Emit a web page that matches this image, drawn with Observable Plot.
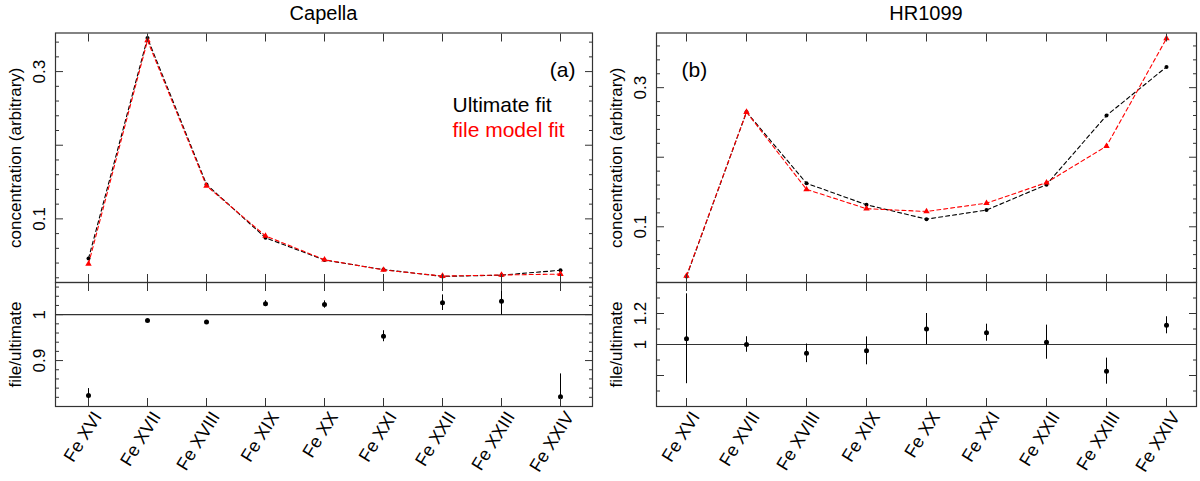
<!DOCTYPE html>
<html>
<head>
<meta charset="utf-8">
<script src="https://cdn.jsdelivr.net/npm/d3@7"></script>
<script src="https://cdn.jsdelivr.net/npm/@observablehq/plot@0.6"></script>
<style>
  body { margin: 0; background: #fff; font-family: "Liberation Sans", Arial, sans-serif; }
  #fig { position: relative; width: 1200px; height: 481px; overflow: hidden; background: #fff; }
  #fig svg { position: absolute; }
  .ttl { position: absolute; top: 2px; font-size: 20px; transform: translateX(-50%); color: #000; }
</style>
</head>
<body>
<div id="fig"></div>
<script>
// ions on the x axis
const ions = ["Fe XVI", "Fe XVII", "Fe XVIII", "Fe XIX", "Fe XX", "Fe XXI", "Fe XXII", "Fe XXIII", "Fe XXIV"];

// Capella
const capUlt   = [0.0461, 0.3455, 0.1468, 0.0743, 0.0441, 0.0311, 0.0219, 0.0236, 0.0302];
const capFile  = [0.0388, 0.3423, 0.1448, 0.0768, 0.0445, 0.0307, 0.0223, 0.0238, 0.0250];
const capRatio = [0.824, 0.987, 0.984, 1.024, 1.022, 0.953, 1.026, 1.029, 0.821];
const capErr   = [0.015, 0.002, 0.002, 0.0065, 0.008, 0.012, 0.017, 0.03, 0.05];

// HR1099
const hrUlt   = [0.0285, 0.265, 0.1625, 0.1317, 0.111, 0.124, 0.1606, 0.260, 0.3298];
const hrFile  = [0.0293, 0.265, 0.1538, 0.126, 0.122, 0.134, 0.1635, 0.2159, 0.3707];
const hrRatio = [1.037, 1.0, 0.943, 0.959, 1.10, 1.076, 1.015, 0.828, 1.124];
const hrErr   = [0.29, 0.05, 0.06, 0.09, 0.1, 0.055, 0.11, 0.084, 0.055];

// tick values
const capTopMajor = [0.1, 0.2, 0.3];
const capTopMinor = [0.02, 0.04, 0.06, 0.08, 0.12, 0.14, 0.16, 0.18, 0.22, 0.24, 0.26, 0.28, 0.32, 0.34];
const capTopLabels = [0.1, 0.3];
const capBotMajor = [0.8, 0.9, 1];
const capBotMinor = [0.82, 0.84, 0.86, 0.88, 0.92, 0.94, 0.96, 0.98, 1.02, 1.04, 1.06];
const capBotLabels = [0.9, 1];

const hrTopMajor = [0.1, 0.2, 0.3];
const hrTopMinor = [0.02, 0.04, 0.06, 0.08, 0.12, 0.14, 0.16, 0.18, 0.22, 0.24, 0.26, 0.28, 0.32, 0.34, 0.36];
const hrTopLabels = [0.1, 0.3];
const hrBotMajor = [0.8, 1, 1.2];
const hrBotMinor = [0.7, 0.9, 1.1, 1.3];
const hrBotLabels = [1, 1.2];

const panels = [
  {title: "Capella", x0: 0, fl: 55, fr: 592, ult: capUlt, file: capFile, ratio: capRatio, err: capErr,
   topDomain: [0.0136, 0.3524], botDomain: [0.80, 1.07],
   topMajor: capTopMajor, topMinor: capTopMinor, topLabels: capTopLabels,
   botMajor: capBotMajor, botMinor: capBotMinor, botLabels: capBotLabels, tag: "(a)", legend: true},
  {title: "HR1099", x0: 600, fl: 656, fr: 1196, ult: hrUlt, file: hrFile, ratio: hrRatio, err: hrErr,
   topDomain: [0.0199, 0.3786], botDomain: [0.6, 1.4],
   topMajor: hrTopMajor, topMinor: hrTopMinor, topLabels: hrTopLabels,
   botMajor: hrBotMajor, botMinor: hrBotMinor, botLabels: hrBotLabels, tag: "(b)", legend: false}
];

const fig = d3.select("#fig");
const frameColor = "#333";
const font = "Liberation Sans, Arial, sans-serif";

function yTicks(major, minor) {
  return [
    Plot.axisY(major, {anchor: "left", tickSize: -8, fill: "none", stroke: frameColor}),
    Plot.axisY(major, {anchor: "right", tickSize: -8, fill: "none", stroke: frameColor}),
    Plot.axisY(minor, {anchor: "left", tickSize: -4, fill: "none", stroke: frameColor}),
    Plot.axisY(minor, {anchor: "right", tickSize: -4, fill: "none", stroke: frameColor})
  ];
}
function xTicks() {
  return [
    Plot.axisX({anchor: "top", tickSize: -8, fill: "none", stroke: frameColor}),
    Plot.axisX({anchor: "bottom", tickSize: -8, fill: "none", stroke: frameColor})
  ];
}

panels.forEach(p => {
  const ult = ions.map((ion, i) => ({ion, v: p.ult[i]}));
  const file = ions.map((ion, i) => ({ion, v: p.file[i]}));
  const ratio = ions.map((ion, i) => ({ion, v: p.ratio[i], lo: p.ratio[i] - p.err[i], hi: p.ratio[i] + p.err[i]}));
  const mL = p.fl - p.x0, mR = p.x0 + 600 - p.fr;

  const common = {
    width: 600,
    marginLeft: mL,
    marginRight: mR,
    x: {type: "point", domain: ions, padding: 0.5, axis: null},
    style: {background: "transparent", overflow: "visible", fontFamily: font, color: "#000"}
  };

  // upper: concentrations
  const top = Plot.plot({
    ...common,
    height: 290,
    marginTop: 32.5,
    marginBottom: 8,
    y: {domain: p.topDomain, axis: null},
    marks: [
      Plot.lineY(ult, {x: "ion", y: "v", stroke: "black", strokeWidth: 1.1, strokeDasharray: "4,3"}),
      Plot.dot(ult, {x: "ion", y: "v", r: 2, fill: "black"}),
      Plot.lineY(file, {x: "ion", y: "v", stroke: "red", strokeWidth: 1.1, strokeDasharray: "4,3"}),
      Plot.dot(file, {x: "ion", y: "v", r: 2.4, symbol: "triangle", fill: "red"}),
      ...yTicks(p.topMajor, p.topMinor),
      ...xTicks(),
      Plot.frame({stroke: frameColor, strokeWidth: 1.2}),
      Plot.text(p.topLabels, {y: d => d, text: d => String(d), frameAnchor: "left", dx: -16, rotate: -90, textAnchor: "middle", fontSize: 17}),
      Plot.text(["concentration (arbitrary)"], {text: d => d, frameAnchor: "left", dx: -40, rotate: -90, textAnchor: "middle", fontSize: 17}),
      Plot.text([p.tag], p.legend
        ? {text: d => d, frameAnchor: "top-right", dx: -17, dy: 29.5, textAnchor: "end", fontSize: 21}
        : {text: d => d, frameAnchor: "top-left", dx: 25, dy: 29.5, textAnchor: "start", fontSize: 21}),
      p.legend ? Plot.text(["Ultimate fit"], {text: d => d, frameAnchor: "top-left", dx: 452 - p.fl, dy: 97 - 32.5, textAnchor: "start", fontSize: 21, fill: "black"}) : null,
      p.legend ? Plot.text(["file model fit"], {text: d => d, frameAnchor: "top-left", dx: 452 - p.fl, dy: 122 - 32.5, textAnchor: "start", fontSize: 21, fill: "red"}) : null
    ]
  });

  // lower: ratio file/ultimate
  const bot = Plot.plot({
    ...common,
    height: 207,
    marginTop: 8,
    marginBottom: 75,
    y: {domain: p.botDomain, axis: null},
    marks: [
      Plot.ruleY([1], {stroke: frameColor, strokeWidth: 1.2}),
      Plot.ruleX(ratio, {x: "ion", y1: "lo", y2: "hi", stroke: "black", strokeWidth: 1, clip: true}),
      Plot.dot(ratio, {x: "ion", y: "v", r: 2.5, fill: "black"}),
      ...yTicks(p.botMajor, p.botMinor),
      ...xTicks(),
      Plot.frame({stroke: frameColor, strokeWidth: 1.2}),
      Plot.text(p.botLabels, {y: d => d, text: d => String(d), frameAnchor: "left", dx: -16, rotate: -90, textAnchor: "middle", fontSize: 17}),
      Plot.text(["file/ultimate"], {text: d => d, frameAnchor: "left", dx: -40, rotate: -90, textAnchor: "middle", fontSize: 17}),
      Plot.text(ions, {x: d => d, text: d => d, frameAnchor: "bottom", dx: 14, dy: 10, rotate: -58, textAnchor: "end", fontSize: 18})
    ]
  });

  d3.select(top).style("left", p.x0 + "px").style("top", "0px");
  d3.select(bot).style("left", p.x0 + "px").style("top", "274px");
  fig.append(() => top);
  fig.append(() => bot);
  fig.append("div").attr("class", "ttl").style("left", (p.fl + p.fr) / 2 + "px").text(p.title);
});
</script>
</body>
</html>
